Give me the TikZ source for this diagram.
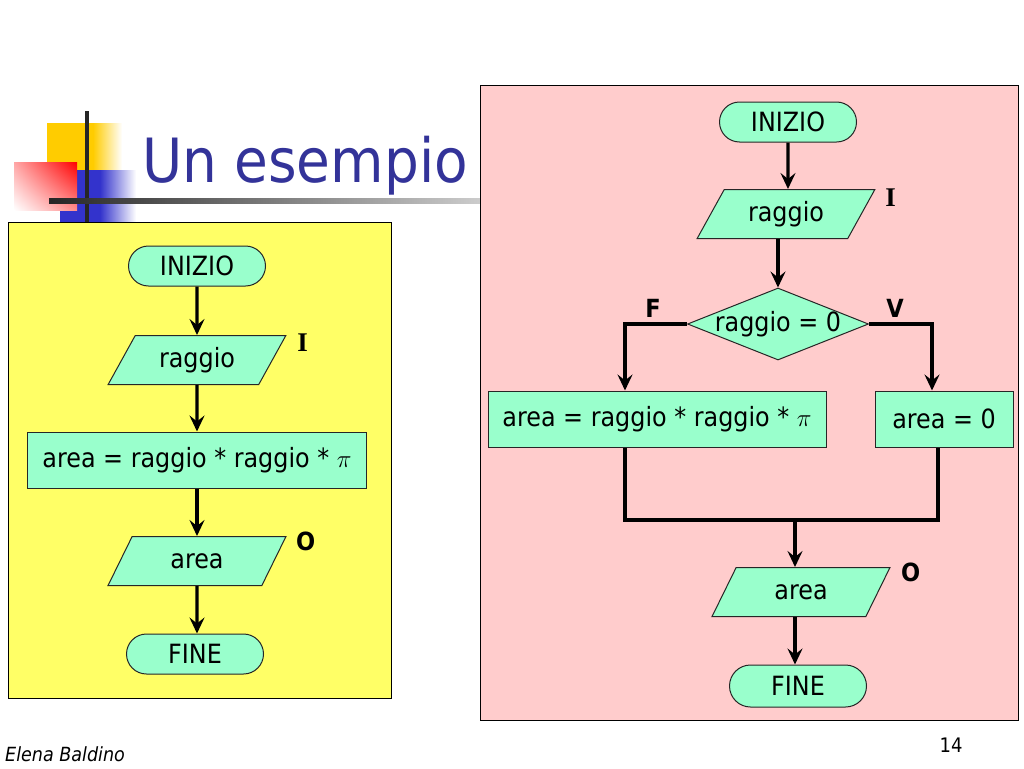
\documentclass[tikz,border=0pt]{standalone}
\usepackage{fontspec}
\setmainfont{DejaVu Sans}[FakeStretch=0.9]
\newfontfamily\tagserif{Liberation Serif}
\usepackage{xcolor}
\usepackage{tikz}
\usetikzlibrary{arrows.meta,shapes.geometric,shapes.misc,shadings,positioning}

\definecolor{menta}{HTML}{99FFCC}
\definecolor{giallo}{HTML}{FFFF66}
\definecolor{rosa}{HTML}{FFCCCC}
\definecolor{titolo}{HTML}{333399}
\definecolor{oro}{HTML}{FFCC00}
\definecolor{bluino}{HTML}{3333CC}

\begin{document}
\begin{tikzpicture}[x=1pt,y=-1pt,
        testo/.style={font=\fontsize{26.5}{30}\selectfont},
        terminale/.style={rounded rectangle, draw=black!85, line width=1pt, fill=menta, minimum width=137pt, minimum height=40pt, inner sep=0pt, testo},
        ingresso/.style={trapezium, trapezium left angle=57, trapezium right angle=123, trapezium stretches=true, draw=black!85, line width=1pt, fill=menta, minimum width=178pt, minimum height=49pt, inner sep=0pt, testo},
        blocco/.style={rectangle, draw=black!85, line width=1pt, fill=menta, minimum height=56pt, inner sep=0pt, testo},
        scelta/.style={diamond, aspect=2.5, draw=black!85, line width=1pt, fill=menta, minimum width=181pt, minimum height=72pt, inner sep=-2pt, testo},
        freccia/.style={line width=3.4pt, -{Stealth[length=16pt,width=15pt,inset=6pt]}},
        linea/.style={line width=3.4pt},
        etich/.style={font=\fontsize{25}{28}\selectfont\bfseries},
        etichI/.style={font=\fontsize{27}{30}\tagserif\bfseries},
    ]
        \useasboundingbox (0,0) rectangle (1024,768);
        \fill[white] (0,0) rectangle (1024,768);

        % logo
        \fill[oro] (47,123) rectangle (93,170);
        \shade[left color=oro, right color=white] (93,123) rectangle (122,170);
        \fill[bluino] (60,170) rectangle (100,222);
        \shade[left color=bluino, right color=white] (100,170) rectangle (136,222);
        \shade[upper right=red, upper left=red!35, lower right=red!45, lower left=white] (14,162) rectangle (77,210);
        \draw[line width=4pt, black!85] (87,111) -- (87,222);
        \shade[left color=black!85, right color=black!20] (49,198) rectangle (480,203);

        \node[anchor=base west, text=titolo, font=\fontsize{61}{70}\selectfont, inner sep=0pt] (tit) at (142,182) {Un esempio};

        \draw[fill=giallo, line width=1pt] (8,222) rectangle (391,698);
        \draw[fill=rosa, line width=1pt] (480,85) rectangle (1018,720);

        % sequenza
        \node[terminale] (iniL) at (197,266) {INIZIO};
        \node[ingresso] (rdL) at (197,360) {raggio};
        \node[blocco, minimum width=339pt] (arL) at (197,460) {area = raggio * raggio * $\pi$};
        \node[ingresso] (outL) at (197,561) {area};
        \node[terminale] (finL) at (195,654) {FINE};
        \node[etichI] (iL) at ([shift={(16,8)}]rdL.top right corner) {I};
        \node[etich] (oL) at ([shift={(19,5)}]outL.top right corner) {O};

        \draw (iniL) edge[freccia] (rdL);
        \draw (rdL) edge[freccia] (arL);
        \draw (arL) edge[freccia] (outL);
        \draw (outL) edge[freccia] (finL.north -| outL);

        % selezione
        \node[terminale] (iniR) at (788,122) {INIZIO};
        \node[ingresso] (rdR) at (786,214) {raggio};
        \node[scelta] (dec) at (778,324) {raggio = 0};
        \node[blocco, minimum width=338pt] (ar1) at (657,419) {area = raggio * raggio * $\pi$};
        \node[blocco, minimum width=138pt] (ar2) at (944,419) {area = 0};
        \node[ingresso] (outR) at (801,592) {area};
        \node[terminale, minimum height=42pt] (finR) at (798,686) {FINE};
        \node[etichI] (iR) at ([shift={(15,9)}]rdR.top right corner) {I};
        \node[etich] (oR) at ([shift={(20,5)}]outR.top right corner) {O};
        \node[etich] (fF) at ([shift={(-34,-16)}]dec.west) {F};
        \node[etich] (vV) at ([shift={(26,-16)}]dec.east) {V};

        \coordinate (fL) at (625,324);
        \coordinate (vR) at (932,324);
        \coordinate (mL) at (625,520);
        \coordinate (mR) at (938,520);
        \coordinate (jn) at (795,520);

        \draw[freccia] (iniR) -- (iniR |- rdR.north);
        \draw[freccia] (rdR.south -| dec) -- (dec);
        \draw[freccia] (dec.west) -- (fL) -- (fL |- ar1.north);
        \draw[freccia] (dec.east) -- (vR) -- (vR |- ar2.north);
        \draw[linea] (mL |- ar1.south) -- (mL) -- (mR) -- (mR |- ar2.south);
        \draw[freccia] (jn) -- (jn |- outR.north);
        \draw[freccia] (outR.south -| jn) -- (jn |- finR.north);

        \node[anchor=base west, font=\fontsize{19.5}{22}\selectfont\itshape, inner sep=0pt] (aut) at (5,761) {Elena Baldino};
        \node[anchor=base, font=\fontsize{20}{22}\selectfont, inner sep=0pt] (pag) at (951,752) {14};
    \end{tikzpicture}
\end{document}
